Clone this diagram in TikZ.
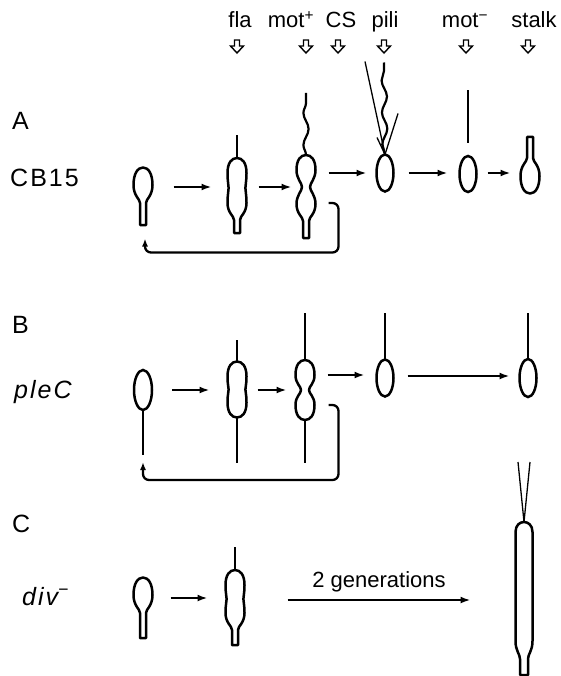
\documentclass[tikz,border=0pt]{standalone}
\usepackage{fontspec}
\setmainfont{Liberation Sans}
\usetikzlibrary{arrows.meta,calc,decorations.pathmorphing,shapes.geometric}

% cell with a rounded body and a stalk; #1 = end of the stalk
\newcommand\ovalstalkcell[1]{%
  \draw[cell] (-3,#1) -- (-3,16) .. controls (-3,12) and (-9.5,9) .. (-9.5,-2)
    .. controls (-9.5,-13) and (-5.5,-19.5) .. (0,-19.5)
    .. controls (5.5,-19.5) and (9.5,-13) .. (9.5,-2)
    .. controls (9.5,9) and (3,12) .. (3,16) -- (3,#1) -- cycle;}

% dividing cell with a stalk; #1 half-length, #2 waist half-width, #3 end of stalk
\newcommand\pinchstalkcell[3]{%
  \draw[cell] (-3,#3) -- (-3,{#1+2})
    .. controls (-3,{#1-2}) and (-9.5,{#1-5}) .. (-9.5,{#1-15})
    .. controls (-9.5,{#1-24}) and ({-#2},4) .. ({-#2},0)
    .. controls ({-#2},-4) and (-9.5,{-#1+24}) .. (-9.5,{-#1+15})
    .. controls (-9.5,{-#1+5}) and (-5.5,{-#1}) .. (0,{-#1})
    .. controls (5.5,{-#1}) and (9.5,{-#1+5}) .. (9.5,{-#1+15})
    .. controls (9.5,{-#1+24}) and ({#2},-4) .. ({#2},0)
    .. controls ({#2},4) and (9.5,{#1-24}) .. (9.5,{#1-15})
    .. controls (9.5,{#1-5}) and (3,{#1-2}) .. (3,{#1+2}) -- (3,#3) -- cycle;}

% dividing cell without a stalk; #1 half-length, #2 waist half-width
\newcommand\pinchroundcell[2]{%
  \draw[cell] (0,{#1}) .. controls (-5.5,{#1}) and (-9.5,{#1-5}) .. (-9.5,{#1-15})
    .. controls (-9.5,{#1-24}) and ({-#2},4) .. ({-#2},0)
    .. controls ({-#2},-4) and (-9.5,{-#1+24}) .. (-9.5,{-#1+15})
    .. controls (-9.5,{-#1+5}) and (-5.5,{-#1}) .. (0,{-#1})
    .. controls (5.5,{-#1}) and (9.5,{-#1+5}) .. (9.5,{-#1+15})
    .. controls (9.5,{-#1+24}) and ({#2},-4) .. ({#2},0)
    .. controls ({#2},4) and (9.5,{#1-24}) .. (9.5,{#1-15})
    .. controls (9.5,{#1-5}) and (5.5,{#1}) .. (0,{#1}) -- cycle;}

\begin{document}
\begin{tikzpicture}[x=1pt,y=-1pt,
  cell/.style={line width=2.5pt, line join=round},
  slot/.style={inner sep=0pt, outer sep=0pt, minimum width=19pt},
  ovalcell/.style={ellipse, draw, line width=2.5pt, inner sep=0pt, outer sep=0pt},
  flag/.style={line width=2.4pt},
  wavy/.style={line width=2.2pt, decorate, decoration={snake, amplitude=2.6pt, segment length=32pt}},
  pilus/.style={line width=1.3pt},
  arr/.style={line width=2.7pt, -{Latex[length=10pt,width=7pt]}},
  fb/.style={line width=2.3pt, rounded corners=6pt, -{Latex[length=8pt,width=6pt]}},
  head/.style={font=\fontsize{22}{26}\selectfont, anchor=base, inner sep=0pt},
  lab/.style={font=\fontsize{25}{30}\selectfont\addfontfeature{LetterSpace=8}, anchor=base west, inner sep=0pt},
  hollowdown/.pic={\draw[line width=1.4pt, line join=miter]
    (-2.5,0) -- (-2.5,6) -- (-6.5,6) -- (0,13) -- (6.5,6) -- (2.5,6) -- (2.5,0) -- cycle;}]

\useasboundingbox (0,0) rectangle (560,676);

% ---- stage markers along the top ----
\node[head] (hfla)  at (240,28) {fla};
\node[head] (hmotp) at (291,28) {mot\textsuperscript{+}};
\node[head] (hcs)   at (341,28) {CS};
\node[head] (hpili) at (385,28) {pili};
\node[head] (hmotm) at (465,28) {mot\textsuperscript{−}};
\node[head] (hstalk) at (534,28) {stalk};
\pic at (237,40) {hollowdown};
\pic at (306,40) {hollowdown};
\pic at (338,40) {hollowdown};
\pic at (384,40) {hollowdown};
\pic at (466,40) {hollowdown};
\pic at (528,40) {hollowdown};

% ---- row labels ----
\node[lab] (la)  at (12,130) {A};
\node[lab] (lcb) at (10,187) {CB15};
\node[lab] (lb)  at (12,333) {B};
\node[lab] (lpl) at (14,398) {\itshape pleC};
\node[lab] (lc)  at (12,532) {C};
\node[lab] (ldv) at (22,605) {\itshape div\textsuperscript{−}};

% ================= A: wild type CB15 =================
\node[slot, minimum height=39pt] (a1) at (143,187) {};
\begin{scope}[shift={(a1.center)}] \ovalstalkcell{38} \end{scope}

\node[slot, minimum height=60pt] (a2) at (237,188) {};
\begin{scope}[shift={(a2.center)}] \pinchstalkcell{30}{8.4}{45} \end{scope}
\draw[flag] (a2.north) -- ++(0,-23);

\node[slot, minimum height=64pt] (a3) at (306,187) {};
\begin{scope}[shift={(a3.center)}] \pinchstalkcell{32}{4}{51} \end{scope}
\draw[wavy] (a3.north) -- ++(0,-62);

\node[ovalcell, minimum width=17pt, minimum height=37pt] (a4) at (385,173) {};
\draw[wavy] (a4.north) -- ++(-1,-92);
\draw[pilus] (a4.north) -- ++(-20,-93);
\draw[pilus] (a4.north) -- ++(13,-41);
\draw[pilus] (a4.north) -- ++(-8,-17);

\node[ovalcell, minimum width=17pt, minimum height=36pt] (a5) at (468,174) {};
\draw[flag] ($(a5.north)+(0,-13)$) -- ++(0,-53);

\node[slot, minimum height=39pt] (a6) at (530,174) {};
\begin{scope}[shift={(a6.center)}, yscale=-1] \ovalstalkcell{37} \end{scope}

\draw[arr] ($(a1.east)+(21,0)$) -- ($(a1.east -| a2.west)+(-16,0)$);
\draw[arr] ($(a1.east -| a2.east)+(12,0)$) -- ($(a1.east -| a3.west)+(-5,0)$);
\draw[arr] ($(a3.east |- a4.west)+(13,0)$) -- ($(a4.west)+(-10,0)$);
\draw[arr] ($(a4.east)+(15,0)$) -- ($(a4.east -| a5.west)+(-12,0)$);
\draw[arr] ($(a4.east -| a5.east)+(11,0)$) -- ($(a4.east -| a6.west)+(-10,0)$);
\draw[fb] ($(a3.east)+(13,16)$) -- ++(10,0) |- ($(a1.south)+(2,46)$) -- ($(a1.south)+(2,32)$);

% ================= B: pleC =================
\node[ovalcell, minimum width=18pt, minimum height=40pt] (b1) at (143,390) {};
\draw[flag] (b1.south) -- ++(0,45);

\node[slot, minimum height=56pt] (b2) at (237,389.5) {};
\begin{scope}[shift={(b2.center)}] \pinchroundcell{28}{8.4} \end{scope}
\draw[flag] (b2.north) -- ++(0,-22);
\draw[flag] (b2.south) -- ++(0,45);

\node[slot, minimum height=60pt] (b3) at (305,390) {};
\begin{scope}[shift={(b3.center)}] \pinchroundcell{30}{4} \end{scope}
\draw[flag] (b3.north) -- ++(0,-47);
\draw[flag] (b3.south) -- ++(0,43);

\node[ovalcell, minimum width=17pt, minimum height=37pt] (b4) at (385,378) {};
\draw[flag] (b4.north) -- ++(0,-47);

\node[ovalcell, minimum width=17pt, minimum height=38pt] (b5) at (528,378) {};
\draw[flag] (b5.north) -- ++(0,-46);

\draw[arr] ($(b1.east)+(20,0)$) -- ($(b1.east -| b2.west)+(-18,0)$);
\draw[arr] ($(b1.east -| b2.east)+(11,0)$) -- ($(b1.east -| b3.west)+(-9,0)$);
\draw[arr] ($(b3.east |- b4.west)+(13,-3)$) -- ($(b4.west)+(-12,-3)$);
\draw[arr] ($(b4.east)+(14,-2)$) -- ($(b4.east -| b5.west)+(-10,-2)$);
\draw[fb] ($(b3.east)+(14,15)$) -- ++(10,0) |- ($(b1.south)+(0,70)$) -- ($(b1.south)+(0,52)$);

% ================= C: div- =================
\node[slot, minimum height=39pt] (c1) at (143,597) {};
\begin{scope}[shift={(c1.center)}] \ovalstalkcell{41} \end{scope}

\node[slot, minimum height=58pt] (c2) at (235,599) {};
\begin{scope}[shift={(c2.center)}] \pinchstalkcell{29}{8.4}{46} \end{scope}
\draw[flag] (c2.north) -- ++(0,-23);

\node[slot, minimum width=17pt, minimum height=135pt] (c3) at (524,589.5) {};
\begin{scope}[shift={(c3.center)}]
  \draw[cell] (-4,85.5) -- (-4,69.5) .. controls (-4,64.5) and (-8.5,61.5) .. (-8.5,51.5)
    -- (-8.5,-57.5) .. controls (-8.5,-64.5) and (-4,-67.5) .. (0,-67.5)
    .. controls (4,-67.5) and (8.5,-64.5) .. (8.5,-57.5)
    -- (8.5,51.5) .. controls (8.5,61.5) and (4,64.5) .. (4,69.5) -- (4,85.5) -- cycle;
\end{scope}
\draw[pilus] (c3.north) -- ++(-6,-60);
\draw[pilus] (c3.north) -- ++(6,-60);

\draw[arr] ($(c1.east)+(18,1)$) -- ($(c1.east -| c2.west)+(-18,1)$);
\draw[arr] ($(c2.east)+(43,1)$) -- node[midway, above=7pt, inner sep=0pt, font=\fontsize{22}{26}\selectfont] (gen) {2 generations} ($(c2.east -| c3.west)+(-45,1)$);

\end{tikzpicture}
\end{document}
